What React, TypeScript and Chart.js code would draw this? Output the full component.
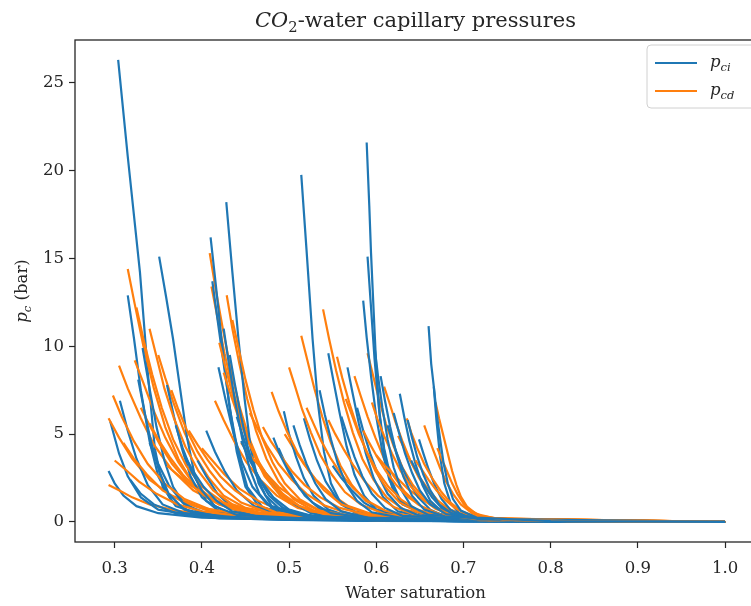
import React, { useEffect, useRef } from "react";
import { Chart, registerables } from "chart.js";

Chart.register(...registerables);

// ---------------- data ----------------
const xTicks = [0.3, 0.4, 0.5, 0.6, 0.7, 0.8, 0.9, 1.0];
const yTicks = [0, 5, 10, 15, 20, 25];

// p_ci curves: [water saturation, pressure (bar)]
const pciCurves: number[][][] = [
  [[0.293, 2.9], [0.3, 2.2], [0.31, 1.5], [0.325, 0.9], [0.35, 0.5], [0.4, 0.25], [0.5, 0.12], [0.7, 0.05], [1, 0]],
  [[0.295, 5.7], [0.305, 3.9], [0.315, 2.6], [0.33, 1.4], [0.35, 0.7], [0.4, 0.3], [0.5, 0.12], [0.7, 0.05], [1, 0]],
  [[0.304, 26.3], [0.315, 20.8], [0.329, 14.2], [0.338, 8.5], [0.346, 4.2], [0.355, 2], [0.37, 0.9], [0.4, 0.4], [0.5, 0.15], [0.7, 0.05], [1, 0]],
  [[0.306, 6.9], [0.315, 5.2], [0.325, 3.6], [0.338, 2.1], [0.355, 1.0], [0.38, 0.5], [0.45, 0.2], [0.7, 0.05], [1, 0]],
  [[0.315, 12.9], [0.322, 10.5], [0.33, 7.5], [0.34, 4.6], [0.35, 2.6], [0.365, 1.2], [0.39, 0.5], [0.45, 0.2], [0.7, 0.05], [1, 0]],
  [[0.318, 2.4], [0.33, 1.6], [0.345, 1.0], [0.37, 0.5], [0.42, 0.2], [0.6, 0.06], [1, 0]],
  [[0.332, 9.9], [0.34, 7.6], [0.348, 5.4], [0.357, 3.5], [0.367, 2], [0.38, 1], [0.41, 0.4], [0.5, 0.15], [0.7, 0.05], [1, 0]],
  [[0.351, 15.1], [0.359, 12.8], [0.367, 10.4], [0.375, 7.6], [0.383, 4.8], [0.392, 2.6], [0.405, 1.2], [0.43, 0.5], [0.5, 0.2], [0.7, 0.06], [1, 0]],
  [[0.34, 4.5], [0.35, 3.3], [0.362, 2.1], [0.378, 1.1], [0.4, 0.5], [0.45, 0.2], [0.7, 0.05], [1, 0]],
  [[0.36, 7.8], [0.368, 6], [0.377, 4.2], [0.387, 2.6], [0.4, 1.4], [0.42, 0.6], [0.47, 0.25], [0.7, 0.06], [1, 0]],
  [[0.395, 3.5], [0.405, 2.6], [0.418, 1.6], [0.435, 0.8], [0.46, 0.35], [0.55, 0.12], [1, 0]],
  [[0.41, 16.2], [0.416, 13.5], [0.423, 10.2], [0.431, 6.8], [0.44, 4], [0.45, 2], [0.465, 0.9], [0.5, 0.35], [0.6, 0.12], [1, 0]],
  [[0.412, 13.7], [0.418, 11.5], [0.425, 9], [0.433, 6.2], [0.442, 3.8], [0.452, 2], [0.47, 0.8], [0.52, 0.3], [0.7, 0.08], [1, 0]],
  [[0.428, 18.2], [0.435, 14.2], [0.442, 10.4], [0.449, 7], [0.456, 4.2], [0.465, 2.2], [0.48, 0.9], [0.52, 0.35], [0.7, 0.08], [1, 0]],
  [[0.419, 8.8], [0.427, 7], [0.436, 5.1], [0.446, 3.4], [0.458, 2], [0.475, 1], [0.5, 0.45], [0.6, 0.15], [1, 0]],
  [[0.405, 5.2], [0.415, 4], [0.426, 2.9], [0.44, 1.8], [0.46, 0.9], [0.49, 0.4], [0.6, 0.12], [1, 0]],
  [[0.445, 4.6], [0.455, 3.5], [0.467, 2.4], [0.482, 1.4], [0.5, 0.7], [0.53, 0.3], [0.65, 0.1], [1, 0]],
  [[0.494, 6.3], [0.5, 5], [0.508, 3.7], [0.517, 2.5], [0.528, 1.5], [0.545, 0.7], [0.57, 0.3], [0.7, 0.08], [1, 0]],
  [[0.488, 4.2], [0.496, 3.3], [0.506, 2.4], [0.518, 1.5], [0.534, 0.8], [0.56, 0.35], [0.7, 0.1], [1, 0]],
  [[0.514, 19.75], [0.52, 15.5], [0.527, 10.4], [0.533, 6.8], [0.54, 4], [0.548, 2.2], [0.56, 1], [0.58, 0.4], [0.7, 0.1], [1, 0]],
  [[0.517, 5.9], [0.524, 4.7], [0.532, 3.5], [0.542, 2.3], [0.555, 1.3], [0.575, 0.6], [0.61, 0.25], [0.75, 0.06], [1, 0]],
  [[0.545, 9.6], [0.551, 8], [0.558, 6.2], [0.566, 4.3], [0.575, 2.7], [0.586, 1.5], [0.6, 0.7], [0.63, 0.3], [0.75, 0.08], [1, 0]],
  [[0.567, 8.8], [0.573, 7.3], [0.58, 5.6], [0.588, 3.9], [0.597, 2.5], [0.608, 1.4], [0.625, 0.6], [0.66, 0.25], [0.8, 0.05], [1, 0]],
  [[0.589, 21.6], [0.592, 18], [0.594, 15.3], [0.597, 12], [0.6, 8.8], [0.604, 6], [0.61, 3.6], [0.618, 2], [0.63, 1], [0.66, 0.35], [0.75, 0.1], [1, 0]],
  [[0.59, 15.1], [0.594, 12.2], [0.598, 9.3], [0.603, 6.5], [0.609, 4.2], [0.617, 2.4], [0.628, 1.2], [0.65, 0.5], [0.75, 0.12], [1, 0]],
  [[0.585, 12.6], [0.589, 10.5], [0.594, 8.3], [0.6, 6], [0.607, 4], [0.615, 2.4], [0.627, 1.2], [0.65, 0.5], [0.75, 0.12], [1, 0]],
  [[0.578, 6.5], [0.585, 5.2], [0.593, 3.9], [0.602, 2.7], [0.613, 1.6], [0.628, 0.8], [0.65, 0.35], [0.75, 0.1], [1, 0]],
  [[0.627, 7.3], [0.632, 6], [0.638, 4.6], [0.645, 3.3], [0.653, 2.1], [0.662, 1.2], [0.675, 0.6], [0.7, 0.25], [0.8, 0.06], [1, 0]],
  [[0.613, 5.5], [0.62, 4.4], [0.628, 3.3], [0.637, 2.3], [0.648, 1.4], [0.662, 0.7], [0.68, 0.3], [0.75, 0.1], [1, 0]],
  [[0.649, 4.7], [0.654, 3.9], [0.66, 3], [0.667, 2.1], [0.675, 1.3], [0.685, 0.7], [0.7, 0.3], [0.78, 0.07], [1, 0]],
  [[0.66, 11.15], [0.663, 9], [0.666, 7.7], [0.669, 5.8], [0.673, 3.8], [0.678, 2.2], [0.685, 1.1], [0.695, 0.5], [0.72, 0.2], [0.8, 0.05], [1, 0]],
  [[0.64, 3.5], [0.647, 2.8], [0.655, 2.1], [0.664, 1.4], [0.675, 0.8], [0.69, 0.4], [0.72, 0.15], [1, 0]],
  [[0.55, 3.2], [0.56, 2.5], [0.572, 1.8], [0.586, 1.1], [0.605, 0.55], [0.63, 0.25], [0.75, 0.07], [1, 0]],
  [[0.47, 3.0], [0.48, 2.3], [0.492, 1.6], [0.507, 1], [0.525, 0.5], [0.56, 0.2], [0.7, 0.06], [1, 0]],
  [[0.327, 8.1], [0.334, 6.3], [0.342, 4.5], [0.351, 2.9], [0.362, 1.6], [0.38, 0.7], [0.42, 0.3], [0.6, 0.08], [1, 0]],
  [[0.37, 5.5], [0.378, 4.2], [0.388, 2.9], [0.4, 1.8], [0.415, 0.9], [0.44, 0.4], [0.55, 0.12], [1, 0]],
  [[0.38, 3.8], [0.39, 2.9], [0.402, 2], [0.417, 1.2], [0.435, 0.6], [0.47, 0.25], [0.65, 0.07], [1, 0]],
  [[0.425, 11], [0.431, 9], [0.438, 6.9], [0.446, 4.8], [0.455, 3], [0.466, 1.6], [0.48, 0.8], [0.52, 0.3], [0.7, 0.08], [1, 0]],
  [[0.432, 9.5], [0.438, 7.8], [0.445, 6], [0.453, 4.2], [0.462, 2.7], [0.473, 1.5], [0.49, 0.7], [0.53, 0.3], [0.7, 0.08], [1, 0]],
  [[0.44, 6], [0.447, 4.9], [0.455, 3.7], [0.465, 2.5], [0.477, 1.5], [0.493, 0.8], [0.52, 0.35], [0.65, 0.1], [1, 0]],
  [[0.505, 5.5], [0.512, 4.4], [0.52, 3.3], [0.53, 2.2], [0.542, 1.3], [0.56, 0.6], [0.59, 0.25], [0.75, 0.06], [1, 0]],
  [[0.482, 4.8], [0.49, 3.8], [0.5, 2.8], [0.512, 1.9], [0.527, 1.1], [0.548, 0.5], [0.6, 0.18], [1, 0]],
  [[0.535, 7.5], [0.541, 6.1], [0.548, 4.7], [0.556, 3.3], [0.566, 2.1], [0.578, 1.2], [0.595, 0.55], [0.63, 0.22], [0.8, 0.05], [1, 0]],
  [[0.56, 6], [0.567, 4.9], [0.575, 3.7], [0.584, 2.6], [0.595, 1.6], [0.61, 0.8], [0.63, 0.35], [0.75, 0.08], [1, 0]],
  [[0.598, 10], [0.602, 8.3], [0.607, 6.5], [0.613, 4.7], [0.62, 3.1], [0.629, 1.8], [0.64, 0.9], [0.66, 0.4], [0.75, 0.1], [1, 0]],
  [[0.605, 8.3], [0.61, 6.9], [0.616, 5.4], [0.623, 3.9], [0.631, 2.6], [0.641, 1.5], [0.655, 0.7], [0.68, 0.3], [0.8, 0.06], [1, 0]],
  [[0.62, 6.2], [0.626, 5.1], [0.633, 3.9], [0.641, 2.8], [0.65, 1.8], [0.662, 1], [0.68, 0.45], [0.72, 0.15], [1, 0]],
  [[0.636, 5.8], [0.641, 4.8], [0.647, 3.7], [0.654, 2.7], [0.662, 1.8], [0.672, 1], [0.686, 0.5], [0.72, 0.18], [1, 0]],
  [[0.666, 7.7], [0.669, 6.3], [0.673, 4.8], [0.677, 3.4], [0.682, 2.2], [0.688, 1.3], [0.697, 0.65], [0.715, 0.25], [0.8, 0.05], [1, 0]],
];

// p_cd curves: [water saturation, pressure (bar)]
const pcdCurves: number[][][] = [
  [[0.293, 2.1], [0.305, 1.8], [0.32, 1.4], [0.34, 1.0], [0.37, 0.65], [0.42, 0.35], [0.5, 0.18], [0.65, 0.08], [1, 0]],
  [[0.293, 5.9], [0.305, 4.8], [0.32, 3.6], [0.34, 2.4], [0.365, 1.5], [0.4, 0.8], [0.45, 0.4], [0.55, 0.18], [0.7, 0.08], [1, 0]],
  [[0.305, 8.9], [0.315, 7.6], [0.33, 5.9], [0.345, 4.4], [0.365, 3], [0.39, 1.8], [0.42, 1], [0.47, 0.45], [0.55, 0.2], [0.7, 0.08], [1, 0]],
  [[0.315, 14.4], [0.323, 12.4], [0.333, 10], [0.345, 7.6], [0.358, 5.4], [0.373, 3.6], [0.39, 2.2], [0.415, 1.2], [0.45, 0.6], [0.52, 0.25], [0.7, 0.08], [1, 0]],
  [[0.323, 9.2], [0.333, 7.9], [0.345, 6.3], [0.358, 4.8], [0.373, 3.4], [0.39, 2.2], [0.41, 1.3], [0.44, 0.65], [0.5, 0.3], [0.7, 0.08], [1, 0]],
  [[0.35, 9.5], [0.358, 8.2], [0.368, 6.7], [0.38, 5.1], [0.393, 3.7], [0.408, 2.5], [0.425, 1.5], [0.45, 0.8], [0.5, 0.35], [0.7, 0.1], [1, 0]],
  [[0.31, 4.5], [0.322, 3.6], [0.337, 2.7], [0.355, 1.8], [0.38, 1.1], [0.41, 0.6], [0.46, 0.3], [0.6, 0.1], [1, 0]],
  [[0.34, 5.6], [0.35, 4.7], [0.363, 3.7], [0.378, 2.7], [0.396, 1.8], [0.42, 1.0], [0.45, 0.5], [0.52, 0.22], [0.7, 0.08], [1, 0]],
  [[0.409, 15.3], [0.416, 13.2], [0.424, 11], [0.433, 8.7], [0.443, 6.6], [0.454, 4.8], [0.467, 3.2], [0.482, 2], [0.5, 1.1], [0.53, 0.5], [0.6, 0.2], [0.75, 0.07], [1, 0]],
  [[0.411, 13.4], [0.418, 11.6], [0.426, 9.6], [0.435, 7.6], [0.446, 5.7], [0.458, 4], [0.472, 2.6], [0.49, 1.5], [0.515, 0.75], [0.56, 0.3], [0.75, 0.08], [1, 0]],
  [[0.4285, 12.9], [0.435, 11], [0.443, 9], [0.452, 7], [0.462, 5.2], [0.474, 3.6], [0.488, 2.3], [0.505, 1.3], [0.53, 0.6], [0.58, 0.25], [0.75, 0.08], [1, 0]],
  [[0.415, 6.9], [0.425, 5.8], [0.437, 4.6], [0.451, 3.4], [0.467, 2.4], [0.486, 1.5], [0.51, 0.8], [0.55, 0.35], [0.7, 0.1], [1, 0]],
  [[0.4, 4.2], [0.412, 3.5], [0.426, 2.7], [0.443, 1.9], [0.465, 1.2], [0.49, 0.65], [0.53, 0.3], [0.7, 0.09], [1, 0]],
  [[0.445, 4.5], [0.457, 3.7], [0.471, 2.9], [0.488, 2.0], [0.508, 1.3], [0.532, 0.7], [0.57, 0.3], [0.7, 0.1], [1, 0]],
  [[0.514, 10.6], [0.521, 9.2], [0.529, 7.6], [0.538, 6], [0.548, 4.5], [0.559, 3.2], [0.572, 2.1], [0.588, 1.2], [0.61, 0.6], [0.65, 0.25], [0.75, 0.08], [1, 0]],
  [[0.539, 12.1], [0.546, 10.4], [0.554, 8.6], [0.563, 6.8], [0.573, 5.1], [0.584, 3.6], [0.597, 2.4], [0.612, 1.4], [0.632, 0.7], [0.67, 0.3], [0.75, 0.1], [1, 0]],
  [[0.495, 5], [0.505, 4.2], [0.517, 3.3], [0.531, 2.4], [0.548, 1.6], [0.568, 0.9], [0.595, 0.45], [0.65, 0.18], [1, 0]],
  [[0.59, 9.6], [0.596, 8.4], [0.603, 7], [0.611, 5.6], [0.62, 4.3], [0.63, 3.1], [0.642, 2.1], [0.656, 1.3], [0.673, 0.7], [0.7, 0.3], [0.78, 0.08], [1, 0]],
  [[0.575, 8.3], [0.582, 7.2], [0.59, 6], [0.599, 4.8], [0.609, 3.6], [0.62, 2.6], [0.633, 1.7], [0.648, 1], [0.668, 0.5], [0.7, 0.2], [1, 0]],
  [[0.609, 7.7], [0.615, 6.8], [0.622, 5.7], [0.63, 4.6], [0.639, 3.5], [0.649, 2.5], [0.66, 1.7], [0.673, 1], [0.69, 0.5], [0.72, 0.2], [1, 0]],
  [[0.625, 4.9], [0.632, 4.2], [0.64, 3.4], [0.649, 2.6], [0.659, 1.9], [0.67, 1.25], [0.683, 0.75], [0.7, 0.4], [0.73, 0.15], [1, 0]],
  [[0.668, 6.8], [0.672, 5.9], [0.677, 4.9], [0.682, 3.9], [0.687, 2.9], [0.692, 2.1], [0.697, 1.44], [0.704, 0.87], [0.715, 0.45], [0.735, 0.22], [0.8, 0.07], [1, 0]],
  [[0.655, 5.5], [0.66, 4.8], [0.666, 4], [0.673, 3.1], [0.68, 2.3], [0.688, 1.6], [0.697, 1], [0.71, 0.5], [0.73, 0.2], [0.8, 0.06], [1, 0]],
  [[0.545, 5.8], [0.553, 5], [0.563, 4.1], [0.574, 3.2], [0.587, 2.3], [0.602, 1.5], [0.62, 0.85], [0.645, 0.4], [0.7, 0.15], [1, 0]],
  [[0.48, 7.4], [0.488, 6.3], [0.498, 5.1], [0.51, 3.9], [0.524, 2.8], [0.54, 1.8], [0.56, 1.0], [0.59, 0.5], [0.65, 0.2], [1, 0]],
  [[0.36, 3.2], [0.372, 2.7], [0.387, 2.1], [0.405, 1.5], [0.43, 0.9], [0.46, 0.5], [0.52, 0.22], [0.7, 0.08], [1, 0]],
  [[0.6, 3.8], [0.61, 3.2], [0.622, 2.6], [0.636, 1.9], [0.652, 1.3], [0.67, 0.8], [0.69, 0.45], [0.72, 0.2], [1, 0]],
  [[0.298, 7.2], [0.308, 6], [0.322, 4.6], [0.338, 3.3], [0.357, 2.2], [0.38, 1.3], [0.41, 0.7], [0.46, 0.35], [0.6, 0.12], [1, 0]],
  [[0.3, 3.5], [0.312, 3], [0.328, 2.3], [0.348, 1.6], [0.372, 1], [0.4, 0.6], [0.45, 0.3], [0.6, 0.1], [1, 0]],
  [[0.325, 12.2], [0.333, 10.4], [0.343, 8.4], [0.354, 6.5], [0.367, 4.7], [0.382, 3.2], [0.4, 2], [0.425, 1.1], [0.46, 0.55], [0.53, 0.22], [0.7, 0.08], [1, 0]],
  [[0.33, 6.5], [0.34, 5.5], [0.352, 4.4], [0.366, 3.3], [0.383, 2.3], [0.403, 1.5], [0.43, 0.8], [0.47, 0.4], [0.6, 0.12], [1, 0]],
  [[0.365, 7.5], [0.373, 6.4], [0.383, 5.2], [0.395, 4], [0.409, 2.9], [0.425, 1.9], [0.445, 1.1], [0.475, 0.55], [0.55, 0.2], [1, 0]],
  [[0.34, 11], [0.348, 9.4], [0.357, 7.6], [0.368, 5.9], [0.381, 4.3], [0.396, 2.9], [0.413, 1.8], [0.435, 1], [0.47, 0.45], [0.55, 0.18], [1, 0]],
  [[0.385, 5.2], [0.395, 4.4], [0.407, 3.5], [0.421, 2.6], [0.438, 1.8], [0.458, 1.1], [0.485, 0.55], [0.54, 0.22], [1, 0]],
  [[0.42, 10.2], [0.427, 8.8], [0.435, 7.3], [0.444, 5.8], [0.455, 4.4], [0.467, 3.1], [0.482, 2], [0.5, 1.2], [0.525, 0.6], [0.58, 0.25], [1, 0]],
  [[0.425, 8.5], [0.432, 7.4], [0.441, 6.1], [0.451, 4.8], [0.463, 3.6], [0.477, 2.5], [0.493, 1.6], [0.512, 0.9], [0.54, 0.45], [0.6, 0.18], [1, 0]],
  [[0.435, 11.5], [0.442, 9.9], [0.45, 8.1], [0.459, 6.4], [0.469, 4.8], [0.481, 3.4], [0.495, 2.2], [0.512, 1.3], [0.535, 0.65], [0.58, 0.28], [1, 0]],
  [[0.455, 6.2], [0.464, 5.3], [0.475, 4.3], [0.488, 3.3], [0.503, 2.4], [0.52, 1.6], [0.54, 0.95], [0.57, 0.45], [0.65, 0.15], [1, 0]],
  [[0.47, 5.4], [0.479, 4.6], [0.49, 3.8], [0.503, 2.9], [0.518, 2.1], [0.536, 1.4], [0.558, 0.8], [0.59, 0.4], [0.7, 0.12], [1, 0]],
  [[0.5, 8.8], [0.507, 7.7], [0.515, 6.4], [0.525, 5.1], [0.536, 3.8], [0.549, 2.7], [0.564, 1.7], [0.582, 1], [0.61, 0.45], [0.67, 0.17], [1, 0]],
  [[0.52, 6.5], [0.528, 5.6], [0.537, 4.6], [0.548, 3.6], [0.56, 2.7], [0.574, 1.9], [0.59, 1.2], [0.61, 0.65], [0.64, 0.3], [0.72, 0.1], [1, 0]],
  [[0.555, 9.4], [0.561, 8.2], [0.569, 6.8], [0.578, 5.4], [0.588, 4.1], [0.599, 2.9], [0.612, 1.9], [0.627, 1.1], [0.648, 0.55], [0.69, 0.22], [1, 0]],
  [[0.565, 7], [0.572, 6.1], [0.58, 5], [0.59, 3.9], [0.601, 2.9], [0.614, 2], [0.629, 1.25], [0.647, 0.7], [0.675, 0.3], [0.73, 0.1], [1, 0]],
  [[0.595, 6.8], [0.601, 5.9], [0.609, 4.9], [0.618, 3.9], [0.628, 2.9], [0.64, 2], [0.653, 1.3], [0.668, 0.75], [0.69, 0.35], [0.73, 0.12], [1, 0]],
  [[0.585, 5.2], [0.592, 4.5], [0.601, 3.7], [0.611, 2.9], [0.623, 2.1], [0.637, 1.4], [0.653, 0.85], [0.675, 0.4], [0.72, 0.15], [1, 0]],
  [[0.635, 5.9], [0.64, 5.1], [0.647, 4.2], [0.655, 3.3], [0.664, 2.5], [0.674, 1.75], [0.685, 1.1], [0.698, 0.6], [0.715, 0.3], [0.76, 0.1], [1, 0]],
  [[0.645, 3.5], [0.652, 3], [0.66, 2.4], [0.669, 1.8], [0.679, 1.25], [0.69, 0.8], [0.703, 0.45], [0.725, 0.2], [1, 0]],
  [[0.67, 4.2], [0.675, 3.6], [0.681, 2.9], [0.687, 2.2], [0.693, 1.6], [0.7, 1.05], [0.708, 0.65], [0.72, 0.35], [0.745, 0.15], [0.82, 0.05], [1, 0]],
];

const legendLabels = [
  { base: "p", sub: "ci" },
  { base: "p", sub: "cd" },
];

const BLUE = "#1f77b4";
const ORANGE = "#ff7f0e";
const INK = "#262626";
const SERIF = '"DejaVu Serif", serif';

// ---------------- helpers ----------------
type Part = { t: string; italic?: boolean; sub?: boolean };

function measureParts(ctx: CanvasRenderingContext2D, parts: Part[], size: number) {
  let w = 0;
  for (const p of parts) {
    const s = p.sub ? size * 0.7 : size;
    ctx.font = `${p.italic ? "italic " : ""}${s}px ${SERIF}`;
    w += ctx.measureText(p.t).width;
  }
  return w;
}

function drawParts(
  ctx: CanvasRenderingContext2D,
  parts: Part[],
  x: number,
  y: number,
  size: number,
  align: "left" | "center"
) {
  const total = measureParts(ctx, parts, size);
  let cx = align === "center" ? x - total / 2 : x;
  ctx.textAlign = "left";
  ctx.textBaseline = "alphabetic";
  for (const p of parts) {
    const s = p.sub ? size * 0.7 : size;
    ctx.font = `${p.italic ? "italic " : ""}${s}px ${SERIF}`;
    const dy = p.sub ? size * 0.22 : 0;
    ctx.fillText(p.t, cx, y + dy);
    cx += ctx.measureText(p.t).width;
  }
}

const decorPlugin = {
  id: "decor",
  afterDraw(chart: any) {
    const { ctx, chartArea } = chart;
    const { left, top, right, bottom } = chartArea;
    ctx.save();
    ctx.strokeStyle = INK;
    ctx.lineWidth = 1.3;
    ctx.strokeRect(left, top, right - left, bottom - top);

    ctx.fillStyle = INK;
    drawParts(
      ctx,
      [{ t: "CO", italic: true }, { t: "2", sub: true }, { t: "-water capillary pressures" }],
      (left + right) / 2,
      27,
      21,
      "center"
    );

    drawParts(ctx, [{ t: "Water saturation" }], (left + right) / 2, 598, 16.5, "center");

    ctx.save();
    ctx.translate(27, (top + bottom) / 2);
    ctx.rotate(-Math.PI / 2);
    drawParts(
      ctx,
      [{ t: "p", italic: true }, { t: "c", italic: true, sub: true }, { t: " (bar)" }],
      0,
      0,
      16.5,
      "center"
    );
    ctx.restore();

    // legend
    const lx = 647, ly = 45, lw = 110, lh = 63;
    ctx.fillStyle = "rgba(255,255,255,0.85)";
    ctx.strokeStyle = "#d0d0d0";
    ctx.lineWidth = 1;
    ctx.beginPath();
    const r = 4;
    ctx.moveTo(lx + r, ly);
    ctx.lineTo(lx + lw - r, ly);
    ctx.quadraticCurveTo(lx + lw, ly, lx + lw, ly + r);
    ctx.lineTo(lx + lw, ly + lh - r);
    ctx.quadraticCurveTo(lx + lw, ly + lh, lx + lw - r, ly + lh);
    ctx.lineTo(lx + r, ly + lh);
    ctx.quadraticCurveTo(lx, ly + lh, lx, ly + lh - r);
    ctx.lineTo(lx, ly + r);
    ctx.quadraticCurveTo(lx, ly, lx + r, ly);
    ctx.closePath();
    ctx.fill();
    ctx.stroke();

    const colors = [BLUE, ORANGE];
    const rows = [63, 91];
    legendLabels.forEach((lab, i) => {
      ctx.strokeStyle = colors[i];
      ctx.lineWidth = 2.2;
      ctx.beginPath();
      ctx.moveTo(655, rows[i]);
      ctx.lineTo(697, rows[i]);
      ctx.stroke();
      ctx.fillStyle = INK;
      drawParts(
        ctx,
        [{ t: lab.base, italic: true }, { t: lab.sub, italic: true, sub: true }],
        710,
        rows[i] + 4,
        16.5,
        "left"
      );
    });
    ctx.restore();
  },
};

export default function App() {
  const ref = useRef<HTMLCanvasElement | null>(null);

  useEffect(() => {
    if (!ref.current) return;
    // one p_ci curve, then one p_cd curve, alternating (later ones on top)
    const ordered: { pts: number[][]; color: string }[] = [];
    const n = Math.max(pciCurves.length, pcdCurves.length);
    for (let i = 0; i < n; i++) {
      if (pciCurves[i]) ordered.push({ pts: pciCurves[i], color: BLUE });
      if (pcdCurves[i]) ordered.push({ pts: pcdCurves[i], color: ORANGE });
    }
    const datasets = ordered.map((c, idx) => ({
      data: c.pts.map(([x, y]) => ({ x, y })),
      borderColor: c.color,
      backgroundColor: c.color,
      borderWidth: 2.2,
      pointRadius: 0,
      fill: false,
      tension: 0,
      order: ordered.length - idx,
    }));

    const tickFont = { family: SERIF, size: 16.5 };
    const chart = new Chart(ref.current, {
      type: "line",
      data: { datasets },
      options: {
        animation: false,
        responsive: false,
        devicePixelRatio: 1,
        layout: { padding: { left: 0, top: 40, right: 4, bottom: 0 } },
        plugins: {
          legend: { display: false },
          tooltip: { enabled: false },
          title: { display: false },
        },
        scales: {
          x: {
            type: "linear",
            min: 0.2545,
            max: 1.0355,
            border: { display: false },
            grid: {
              display: true,
              drawOnChartArea: false,
              drawTicks: true,
              tickLength: 6,
              tickColor: INK,
              tickWidth: 1.2,
            },
            afterBuildTicks: (scale: any) => {
              scale.ticks = xTicks.map((v) => ({ value: v }));
            },
            afterFit: (scale: any) => {
              scale.height = 64;
            },
            ticks: {
              font: tickFont,
              color: INK,
              padding: 11,
              maxRotation: 0,
              autoSkip: false,
              callback: (v: any) => Number(v).toFixed(1),
            },
          },
          y: {
            type: "linear",
            min: -1.14,
            max: 27.43,
            border: { display: false },
            grid: {
              display: true,
              drawOnChartArea: false,
              drawTicks: true,
              tickLength: 6,
              tickColor: INK,
              tickWidth: 1.2,
            },
            afterBuildTicks: (scale: any) => {
              scale.ticks = yTicks.map((v) => ({ value: v }));
            },
            afterFit: (scale: any) => {
              scale.width = 75;
            },
            ticks: {
              font: tickFont,
              color: INK,
              padding: 5,
              autoSkip: false,
              callback: (v: any) => String(v),
            },
          },
        },
      },
      plugins: [decorPlugin],
    } as any);
    return () => chart.destroy();
  }, []);

  return (
    <div
      style={{
        position: "fixed",
        left: 0,
        top: 0,
        width: 751,
        height: 606,
        overflow: "hidden",
        background: "#fff",
      }}
    >
      <canvas ref={ref} width={760} height={606} style={{ width: 760, height: 606, display: "block" }} />
    </div>
  );
}
